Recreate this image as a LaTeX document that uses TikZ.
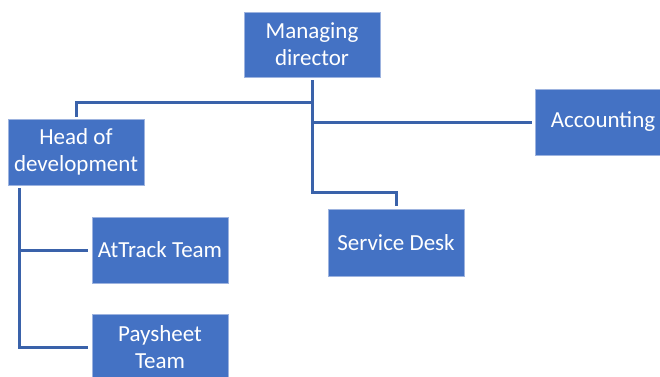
\documentclass[tikz,border=0pt]{standalone}
\usepackage{fontspec}
\setmainfont{Carlito}
\definecolor{boxfill}{HTML}{4472C4}
\definecolor{boxedge}{HTML}{9DB3DF}
\definecolor{linecol}{HTML}{3A62AA}
\begin{document}
\begin{tikzpicture}[x=1pt,y=-1pt,
  orgbox/.style={rectangle, fill=boxfill, draw=boxedge, line width=0.6pt,
    minimum width=136pt, align=center, inner sep=0pt,
    text=white, font=\fontsize{23}{27}\selectfont},
  conn/.style={draw=linecol, line width=3pt}]
\useasboundingbox (0,0) rectangle (660,376);
\fill[white] (0,0) rectangle (660,376);
\node[orgbox, minimum height=65pt] (md) at (312,44.5) {Managing\\director};
\node[orgbox, minimum height=66pt] (hod) at (76,152) {Head of\\development};
\node[orgbox, minimum height=66pt] (acc) at (603,122) {Accounting};
\node[orgbox, minimum height=67pt] (sd) at (396,242.5) {Service Desk};
\node[orgbox, minimum height=66pt] (at) at (160,250) {AtTrack Team};
\node[orgbox, minimum height=66pt] (pay) at (160,347) {Paysheet\\Team};
\coordinate (mdout) at ([yshift=-3pt]md.south);
\coordinate (spine) at ([xshift=12pt,yshift=-3pt]hod.south west);
\draw[conn] (mdout) |- ([yshift=16pt]hod.north) -- ([yshift=2pt]hod.north);
\draw[conn] (mdout) |- ([xshift=-3pt]acc.west);
\draw[conn] (mdout) |- ([yshift=16pt]sd.north) -- ([yshift=3pt]sd.north);
\draw[conn] (spine) |- ([xshift=-4pt]pay.west);
\draw[conn] (spine |- at.west) -- ([xshift=-4pt]at.west);
\end{tikzpicture}
\end{document}
